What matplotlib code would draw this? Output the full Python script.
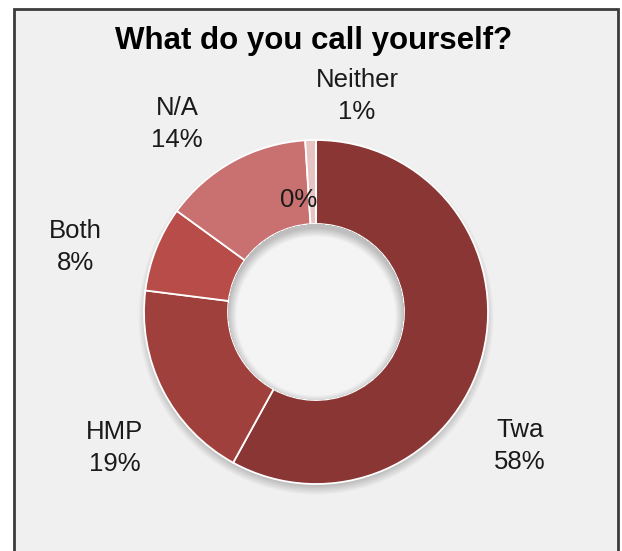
import numpy as np
import matplotlib
matplotlib.use("Agg")
import matplotlib.pyplot as plt
from matplotlib.patches import Rectangle, Circle

# Survey answers
categories = ["Twa", "HMP", "Both", "N/A", "Neither", ""]
shares = [58, 19, 8, 14, 1, 0]
colors = ["#8a3634", "#a0403d", "#b84c49", "#c87170", "#e8c3c3", "#f0d8d8"]
title = "What do you call yourself?"

W, H = 622, 551
fig = plt.figure(figsize=(W / 100, H / 100), dpi=100)
fig.patch.set_facecolor("white")
ax = fig.add_axes([0, 0, 1, 1])
ax.set_axis_off()

def py(y):
    return H - y

# chart area panel
ax.add_patch(Rectangle((14, -5), 604, py(9) + 5, facecolor="#f0f0f0",
                       edgecolor="#3c3c3c", linewidth=2, zorder=0))

cx, cy = 316, 312
R_out, R_in = 172, 88

# soft drop shadow under the ring and inner shadow of the hole
yy, xx = np.mgrid[0:H, 0:W] + 0.5
d_sh = np.hypot(xx - cx, yy - (cy + 5))
outer_a = 0.35 * np.clip((R_out + 6 - d_sh) / 10, 0, 1)
d_hole = np.hypot(xx - cx, yy - (cy + 4))
d_c = np.hypot(xx - cx, yy - cy)
inner_a = 0.32 * np.clip((d_hole - (R_in - 9)) / 9, 0, 1) * (d_c < R_in)
rgba = np.zeros((H, W, 4))
rgba[..., :3] = 0.35
rgba[..., 3] = outer_a
ax.imshow(rgba, extent=(0, W, 0, H), origin="upper", zorder=1, interpolation="bilinear")

wedges, _ = ax.pie(shares, colors=colors, radius=R_out, center=(cx, py(cy)),
                   startangle=90, counterclock=False,
                   wedgeprops=dict(width=R_out - R_in, edgecolor="white", linewidth=1.3),
                   frame=True)
for w in wedges:
    w.set_zorder(2)

# centre hole
ax.add_patch(Circle((cx, py(cy)), R_in, facecolor="#f4f4f4", edgecolor="none", zorder=3))
rgba2 = np.zeros((H, W, 4))
rgba2[..., :3] = 0.3
rgba2[..., 3] = inner_a
ax.imshow(rgba2, extent=(0, W, 0, H), origin="upper", zorder=4, interpolation="bilinear")

ax.set_xlim(0, W)
ax.set_ylim(0, H)
ax.set_aspect("equal")
ax.set_axis_off()

# data labels
label_pos = [(520, 446), (115, 448), (75, 247), (177, 124), (357, 96), (299, 200)]
for name, val, (lx, ly) in zip(categories, shares, label_pos):
    txt = f"{name}\n{val}%" if name else f"{val}%"
    ax.text(lx, py(ly), txt, ha="center", va="center", fontsize=18.5,
            family="Liberation Sans", color="#1a1a1a", linespacing=1.42, zorder=6)

ax.text(314, py(41), title, ha="center", va="center", fontsize=22.5,
        family="Liberation Sans", fontweight="bold", color="black", zorder=6)

fig.savefig("out.png", dpi=100, facecolor="white")
